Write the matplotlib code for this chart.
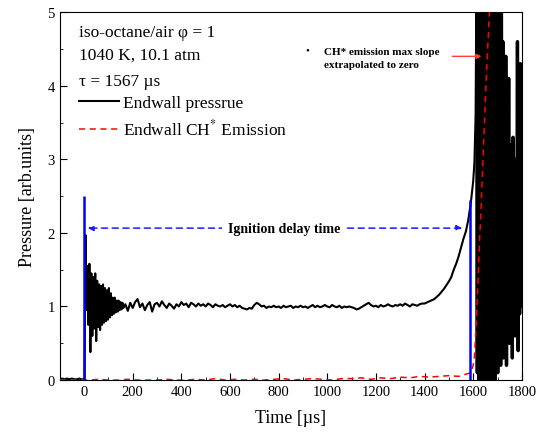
import numpy as np
import matplotlib
matplotlib.use("Agg")
import matplotlib.pyplot as plt
from matplotlib.ticker import MultipleLocator

plt.rcParams['font.family'] = ['Liberation Serif', 'DejaVu Serif']
plt.rcParams['mathtext.fontset'] = 'stix'
plt.rcParams['path.simplify'] = False

# --- endwall pressure trace ---
t_pre = [-100, -90, -80, -70, -60, -50, -40, -30, -20, -10, -2]
p_pre = [0.01, 0.02, 0.01, 0.02, 0.01, 0.02, 0.01, 0.01, 0.02, 0.01, 0.01]

t_early = np.arange(2, 163, 4)
p_early = [0.02, 1.97, 0.95, 1.55, 0.75, 1.58, 0.38, 1.45, 0.60, 1.40,
           0.70, 1.45, 0.53, 1.35, 0.72, 1.30, 0.68, 1.28, 0.75, 1.30,
           0.78, 1.25, 0.80, 1.22, 0.82, 1.25, 0.85, 1.18, 0.88, 1.12,
           0.90, 1.12, 0.92, 1.08, 0.93, 1.08, 0.95, 1.06, 0.96, 1.05,
           0.98]

t_plateau = np.arange(170, 1391, 10)
p_plateau = [1.03, 0.94, 1.05,
             0.98, 1.06, 1.10, 0.99, 1.04, 0.95, 1.02, 1.06, 0.93, 1.03,
             1.05, 1.00, 1.07, 1.02, 0.98, 1.04, 1.01, 0.97, 1.03, 1.00,
             1.06, 1.02, 1.04, 0.99, 1.05, 1.03, 1.00, 1.04, 1.01, 1.03,
             1.00, 1.04, 1.02, 0.99, 1.03, 1.01, 1.00, 1.02, 0.99, 1.01,
             1.03, 1.00, 1.02, 0.99, 1.01, 0.98, 0.97, 0.96, 0.98, 0.97,
             1.02, 1.05, 1.03, 1.00, 1.01, 0.98, 1.00, 0.99, 1.01, 0.99,
             1.00, 0.98, 1.01, 0.99, 1.00, 1.01, 0.98, 1.00, 0.99, 1.01,
             0.99, 1.00, 0.98, 1.00, 1.02, 0.99, 1.01, 0.99, 1.00, 1.02,
             1.00, 0.99, 1.02, 1.00, 0.99, 1.01, 0.98, 1.00, 0.99, 1.00,
             0.99, 0.98, 0.96, 0.97, 0.99, 1.01, 1.03, 1.05, 1.02, 1.00,
             1.01, 0.99, 1.02, 1.00, 1.01, 1.03, 1.01, 1.00, 1.02, 1.01,
             1.03, 1.01, 1.04, 1.02, 1.00, 1.03, 1.02, 1.01, 1.03, 1.04]

t_rise = [1400, 1420, 1440, 1460, 1480, 1500, 1510, 1520, 1530, 1540,
          1550, 1560, 1570, 1580, 1590, 1600, 1605, 1610]
p_rise = [1.04, 1.07, 1.10, 1.16, 1.24, 1.34, 1.40, 1.50, 1.58, 1.68,
          1.80, 1.92, 2.02, 2.18, 2.40, 2.70, 2.95, 3.60]

t_osc = np.arange(1614, 1800, 3)
p_osc = [5.8, 0.1, 6.0, 0.0, 5.9, 0.05, 6.0, 0.0, 5.8, 0.1,
         6.0, 0.0, 5.9, 0.0, 6.0, 0.05, 5.8, 0.0, 6.0, 0.1,
         5.9, 0.0, 6.0, 0.2, 5.7, 0.0, 5.5, 0.3, 5.2, 0.1,
         5.3, 0.6, 4.9, 0.2, 5.4, 1.0, 4.6, 0.3, 3.9, 0.8,
         4.4, 0.2, 3.6, 1.2, 4.1, 0.5, 3.2, 0.9, 2.9, 0.3,
         3.3, 1.4, 2.6, 0.6, 3.0, 1.1, 4.6, 0.4, 2.5, 0.9,
         4.3, 1.0]

# --- endwall CH* emission ---
t_ch_base = np.arange(-100, 1581, 40)
ch_base = [0, 0, 0, 0, 0.01, 0, 0, 0.01, 0, 0,
           0, 0.01, 0, 0, 0.01, 0, 0.02, 0, 0.01, 0,
           0.01, 0, 0.01, 0.02, 0, 0.01, 0.02, 0.01, 0, 0.02,
           0.02, 0.03, 0.01, 0.03, 0.02, 0.04, 0.03, 0.05, 0.04, 0.05,
           0.06, 0.05, 0.09]
t_ch_rise = [1590, 1600, 1605, 1610, 1617, 1625, 1634, 1645, 1655, 1667, 1680]
ch_rise = [0.10, 0.20, 0.32, 0.60, 1.10, 1.80, 2.46, 3.40, 4.20, 5.00, 5.80]

# ignition markers
t_marks = [0, 1588]
mark_tops = [2.5, 2.45]

t_p = np.concatenate([t_pre, t_early, t_plateau, t_rise, t_osc[:1]])
p = np.concatenate([p_pre, p_early, p_plateau, p_rise, p_osc[:1]])
t_ch = np.concatenate([t_ch_base, t_ch_rise])
ch = np.concatenate([ch_base, ch_rise])

fig = plt.figure(figsize=(5.43, 4.39), dpi=100)
ax = fig.add_axes([0.110, 0.132, 0.851, 0.838])

ax.plot(t_p, p, color='black', lw=1.5, label='Endwall pressrue', zorder=3)
ax.plot(t_osc, p_osc, color='black', lw=2.4, zorder=3)
ax.plot(t_ch, ch, color='red', lw=1.1, ls=(0, (4, 3)),
        label='Endwall CH$^{*}$ Emission', zorder=4)
ax.vlines(t_marks, 0, mark_tops, color='#0000ff', lw=1.8, zorder=5)

# ignition delay arrow
ax.annotate('', xy=(15, 2.065), xytext=(1555, 2.065),
            arrowprops=dict(arrowstyle='<|-|>', color='#1a1aff', lw=1.1,
                            ls=(0, (4, 3)), mutation_scale=8,
                            shrinkA=0, shrinkB=0), zorder=2)
ax.text(823, 2.065, 'Ignition delay time', fontsize=10, fontweight='bold',
        ha='center', va='center', zorder=6,
        bbox=dict(facecolor='white', edgecolor='none', pad=4))

# CH* note
ax.text(918, 4.49, '\u2022', fontsize=8, ha='center', va='center')
ax.text(988, 4.38, 'CH* emission max slope\nextrapolated to zero',
        fontsize=8, fontweight='bold', ha='left', va='center', linespacing=1.5)
ax.annotate('', xy=(1634, 4.40), xytext=(1514, 4.40),
            arrowprops=dict(arrowstyle='-|>', color='#ff4040', lw=1.0,
                            mutation_scale=7, shrinkA=0, shrinkB=0), zorder=6)

# header text
ax.text(0.041, 0.945, 'iso-octane/air \u03c6 = 1', transform=ax.transAxes,
        fontsize=12.5, va='center')
ax.text(0.041, 0.885, '1040 K, 10.1 atm', transform=ax.transAxes,
        fontsize=12.5, va='center')
ax.text(0.041, 0.813, '\u03c4 = 1567 \u00b5s', transform=ax.transAxes,
        fontsize=12.5, va='center')
ax.legend(loc='upper left', bbox_to_anchor=(0.041, 0.774), frameon=False,
          fontsize=12.5, handlelength=2.3, handletextpad=0.25,
          labelspacing=0.42, borderaxespad=0, borderpad=0)

ax.set_xlim(-100, 1800)
ax.set_ylim(0, 5)
ax.xaxis.set_major_locator(MultipleLocator(200))
ax.xaxis.set_minor_locator(MultipleLocator(100))
ax.yaxis.set_major_locator(MultipleLocator(1))
ax.yaxis.set_minor_locator(MultipleLocator(0.5))
ax.tick_params(which='both', direction='in', top=False, right=False,
               labelsize=10.5)
ax.tick_params(which='major', length=5)
ax.tick_params(which='minor', length=2.5)
ax.set_xlabel('Time [\u00b5s]', fontsize=13, labelpad=8)
ax.set_ylabel('Pressure [arb.units]', fontsize=13, labelpad=8)

fig.savefig('out.png', dpi=100)
